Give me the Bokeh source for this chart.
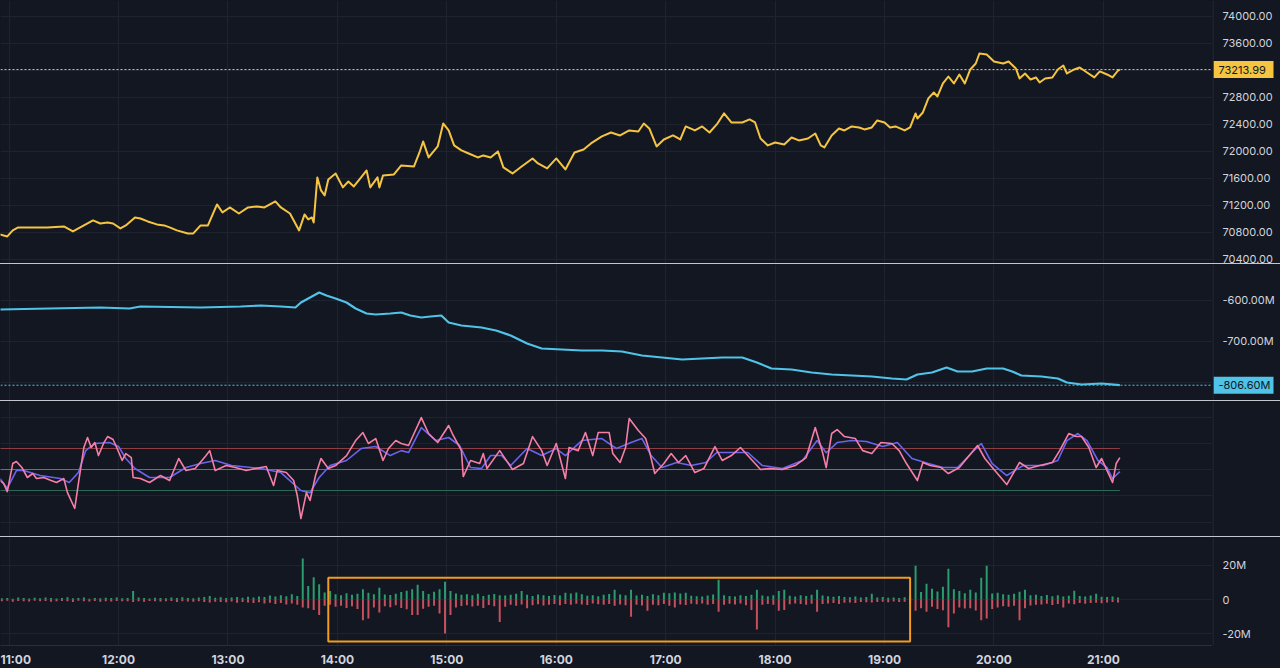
import pandas as pd
from bokeh.plotting import figure
from bokeh.layouts import column, row
from bokeh.models import (FixedTicker, Grid, Span, BoxAnnotation, Range1d, Div,
                          DatetimeTickFormatter)
from bokeh.core.properties import value
from bokeh.embed import file_html
from bokeh.resources import INLINE

DAY = "2024-03-14"

# ---------------- data ----------------
hour_labels = ["11:00", "12:00", "13:00", "14:00", "15:00", "16:00",
               "17:00", "18:00", "19:00", "20:00", "21:00"]
view_start, view_end = "10:55:17", "21:59:48"

price_time = ["10:55", "10:59", "11:02", "11:05", "11:13", "11:21", "11:30", "11:35", "11:39", "11:46",
              "11:50", "11:54", "11:57", "12:01", "12:04", "12:09", "12:12", "12:16", "12:21", "12:25",
              "12:28", "12:32", "12:38", "12:41", "12:45", "12:49", "12:54", "12:57", "13:01", "13:06",
              "13:11", "13:16", "13:20", "13:26", "13:29", "13:34", "13:39", "13:42", "13:44", "13:46",
              "13:47", "13:49", "13:51", "13:53", "13:55", "13:59", "14:03", "14:06", "14:09", "14:13",
              "14:16", "14:18", "14:22", "14:23", "14:25", "14:31", "14:35", "14:42", "14:45", "14:47",
              "14:50", "14:55", "14:58", "15:01", "15:04", "15:08", "15:12", "15:17", "15:20", "15:24",
              "15:28", "15:31", "15:36", "15:41", "15:47", "15:50", "15:55", "16:00", "16:05", "16:10",
              "16:15", "16:19", "16:25", "16:30", "16:35", "16:40", "16:45", "16:48", "16:51", "16:55",
              "16:59", "17:04", "17:08", "17:11", "17:16", "17:20", "17:24", "17:28", "17:32", "17:36",
              "17:42", "17:46", "17:49", "17:52", "17:56", "18:00", "18:05", "18:09", "18:13", "18:18",
              "18:22", "18:25", "18:27", "18:31", "18:35", "18:38", "18:42", "18:46", "18:49", "18:53",
              "18:56", "19:00", "19:03", "19:06", "19:11", "19:14", "19:17", "19:18", "19:21", "19:24",
              "19:27", "19:29", "19:32", "19:35", "19:38", "19:41", "19:44", "19:47", "19:50", "19:52",
              "19:56", "20:00", "20:05", "20:08", "20:12", "20:14", "20:17", "20:20", "20:23", "20:25",
              "20:28", "20:32", "20:35", "20:38", "20:40", "20:44", "20:47", "20:51", "20:55", "20:58",
              "21:02", "21:05", "21:08", "21:09"]
price_value = [70772, 70742, 70831, 70875, 70875, 70875, 70890, 70816, 70875, 70979,
               70934, 70949, 70934, 70860, 70905, 71023, 71008, 70964, 70920, 70905,
               70875, 70831, 70786, 70786, 70905, 70905, 71216, 71097, 71171, 71082,
               71171, 71186, 71171, 71260, 71171, 71082, 70831, 71068, 70994, 71023,
               70949, 71616, 71423, 71349, 71586, 71675, 71468, 71556, 71482, 71616,
               71719, 71468, 71616, 71468, 71645, 71660, 71793, 71778, 71986, 72149,
               71912, 72075, 72415, 72312, 72090, 72016, 71971, 71912, 71942, 71912,
               72001, 71764, 71675, 71778, 71897, 71823, 71749, 71897, 71734, 71986,
               72030, 72119, 72223, 72282, 72238, 72312, 72297, 72415, 72341, 72075,
               72178, 72238, 72178, 72371, 72312, 72371, 72282, 72401, 72564, 72430,
               72430, 72475, 72430, 72193, 72090, 72134, 72104, 72208, 72164, 72193,
               72267, 72090, 72060, 72238, 72341, 72312, 72371, 72356, 72327, 72356,
               72460, 72430, 72356, 72371, 72312, 72356, 72564, 72489, 72578, 72786,
               72874, 72815, 73008, 73111, 73008, 73141, 73008, 73215, 73304, 73452,
               73437, 73334, 73304, 73334, 73230, 73082, 73156, 73067, 73097, 73023,
               73082, 73097, 73215, 73274, 73156, 73215, 73245, 73171, 73097, 73186,
               73141, 73097, 73200, 73213.99]
last_price = 73213.99
price_ticks = [70400, 70800, 71200, 71600, 72000, 72400, 72800, 73600, 74000]
price_grid = [70400, 70800, 71200, 71600, 72000, 72400, 72800, 73200, 73600, 74000]

cvd_time = ["10:55", "11:22", "11:50", "12:06", "12:12", "12:45", "13:07", "13:18", "13:29", "13:37",
            "13:40", "13:45", "13:50", "13:54", "13:59", "14:05", "14:10", "14:16", "14:21", "14:29",
            "14:35", "14:40", "14:46", "14:51", "14:57", "15:01", "15:08", "15:19", "15:27", "15:35",
            "15:44", "15:52", "16:03", "16:14", "16:25", "16:36", "16:47", "16:58", "17:09", "17:20",
            "17:31", "17:42", "17:50", "17:58", "18:09", "18:20", "18:31", "18:42", "18:53", "19:04",
            "19:12", "19:18", "19:26", "19:34", "19:40", "19:48", "19:56", "20:05", "20:10", "20:15",
            "20:26", "20:35", "20:40", "20:48", "20:59", "21:09"]
cvd_value = [-622.0, -619.5, -617.1, -619.5, -614.6, -617.1, -614.6, -612.2, -614.6, -617.1,
             -604.9, -592.7, -580.5, -587.8, -595.1, -604.9, -619.5, -631.7, -634.1, -631.7,
             -629.3, -636.6, -641.5, -639.0, -636.6, -653.7, -661.0, -665.9, -673.2, -685.4,
             -704.9, -717.1, -719.5, -722.0, -722.0, -724.4, -734.1, -739.0, -743.9, -741.5,
             -739.0, -739.0, -751.2, -765.9, -768.3, -775.6, -780.5, -782.9, -785.4, -790.2,
             -792.7, -780.5, -775.6, -763.4, -773.2, -773.2, -765.9, -765.9, -773.2, -782.9,
             -785.4, -790.2, -800.0, -804.9, -802.4, -806.6]
last_cvd = -806.6
cvd_ticks = [-600, -700]
cvd_grid = [-600, -700, -800]

rsi_time = ["10:55", "10:57", "10:59", "11:02", "11:04", "11:07", "11:10", "11:13", "11:15", "11:19",
            "11:23", "11:26", "11:30", "11:32", "11:36", "11:38", "11:41", "11:43", "11:45", "11:47",
            "11:49", "11:52", "11:54", "11:57", "11:59", "12:02", "12:04", "12:07", "12:08", "12:12",
            "12:17", "12:23", "12:28", "12:33", "12:37", "12:42", "12:48", "12:50", "12:53", "12:59",
            "13:04", "13:10", "13:15", "13:21", "13:25", "13:27", "13:32", "13:36", "13:38", "13:40",
            "13:43", "13:45", "13:48", "13:51", "13:55", "13:59", "14:05", "14:10", "14:14", "14:17",
            "14:21", "14:25", "14:28", "14:32", "14:35", "14:39", "14:46", "14:50", "14:55", "15:01",
            "15:03", "15:08", "15:09", "15:13", "15:18", "15:20", "15:22", "15:29", "15:36", "15:42",
            "15:47", "15:52", "15:55", "16:00", "16:05", "16:07", "16:12", "16:16", "16:20", "16:23",
            "16:29", "16:31", "16:35", "16:38", "16:40", "16:45", "16:49", "16:51", "16:54", "16:59",
            "17:03", "17:07", "17:11", "17:16", "17:21", "17:27", "17:31", "17:36", "17:41", "17:45",
            "17:52", "17:57", "18:04", "18:11", "18:17", "18:22", "18:26", "18:28", "18:31", "18:34",
            "18:38", "18:44", "18:48", "18:53", "18:58", "19:04", "19:08", "19:12", "19:18", "19:21",
            "19:25", "19:31", "19:35", "19:41", "19:46", "19:51", "19:55", "20:00", "20:07", "20:14",
            "20:19", "20:25", "20:32", "20:36", "20:41", "20:45", "20:48", "20:52", "20:56", "20:59",
            "21:02", "21:05", "21:07", "21:09"]
rsi_value = [39.5, 36.7, 29.0, 55.7, 57.6, 52.0, 42.4, 46.2, 41.4, 42.4,
             39.5, 37.6, 41.4, 28.0, 12.9, 36.7, 71.0, 80.5, 71.0, 75.7,
             63.3, 75.7, 81.4, 78.6, 71.0, 58.6, 65.2, 61.4, 42.4, 41.4,
             37.6, 44.3, 39.5, 60.5, 49.0, 51.0, 63.3, 68.0, 49.0, 53.8,
             52.0, 49.0, 51.0, 52.9, 34.8, 49.0, 47.1, 39.5, 25.2, 3.3,
             28.0, 20.5, 44.3, 60.5, 51.0, 53.8, 63.3, 77.6, 85.2, 74.8,
             79.5, 58.6, 70.0, 77.6, 74.8, 72.9, 99.5, 84.3, 75.7, 91.9,
             84.3, 68.0, 43.3, 58.6, 55.7, 65.2, 51.0, 68.0, 50.0, 55.7,
             81.4, 68.0, 53.8, 74.8, 41.4, 71.0, 68.0, 85.2, 63.3, 85.2,
             85.2, 65.2, 56.7, 71.0, 98.6, 87.1, 79.5, 68.0, 46.2, 55.7,
             65.2, 56.7, 63.3, 47.1, 51.0, 71.9, 58.6, 63.3, 71.0, 63.3,
             50.0, 51.0, 50.0, 53.8, 61.4, 90.0, 66.2, 51.9, 84.3, 88.1,
             81.4, 79.5, 68.0, 65.2, 75.7, 74.8, 68.0, 55.7, 39.5, 56.7,
             53.8, 51.9, 46.2, 51.9, 62.4, 72.9, 60.5, 50.0, 35.7, 56.7,
             51.0, 53.8, 56.7, 68.0, 84.3, 81.4, 81.4, 71.0, 51.9, 60.5,
             49.0, 37.6, 55.7, 61.4]

rsi_ma_time = ["10:55", "10:59", "11:04", "11:08", "11:17", "11:28", "11:33", "11:38", "11:42", "11:47",
               "11:55", "12:00", "12:04", "12:09", "12:17", "12:28", "12:37", "12:45", "12:53", "13:02",
               "13:18", "13:29", "13:40", "13:45", "13:50", "13:56", "14:05", "14:13", "14:21", "14:29",
               "14:35", "14:39", "14:46", "14:54", "15:01", "15:07", "15:13", "15:19", "15:24", "15:30",
               "15:35", "15:44", "15:52", "16:00", "16:05", "16:14", "16:25", "16:33", "16:41", "16:47",
               "16:52", "16:58", "17:06", "17:14", "17:22", "17:28", "17:36", "17:45", "17:53", "18:04",
               "18:15", "18:23", "18:28", "18:34", "18:42", "18:50", "18:59", "19:07", "19:15", "19:24",
               "19:32", "19:40", "19:48", "19:53", "19:59", "20:07", "20:16", "20:27", "20:35", "20:40",
               "20:46", "20:51", "20:57", "21:02", "21:05", "21:09"]
rsi_ma_value = [41.4, 32.0, 49.0, 49.0, 44.3, 41.4, 37.6, 47.1, 68.0, 74.8,
                75.7, 71.9, 60.5, 51.0, 42.4, 42.4, 51.9, 55.7, 58.6, 53.8,
                51.0, 47.1, 30.0, 28.0, 42.4, 53.8, 58.6, 70.0, 71.9, 63.3,
                68.0, 66.2, 90.0, 77.6, 80.5, 72.9, 51.9, 51.0, 63.3, 63.3,
                53.8, 70.0, 63.3, 70.0, 63.3, 77.6, 79.5, 70.0, 75.7, 79.5,
                63.3, 51.9, 56.7, 53.8, 56.7, 66.2, 66.2, 66.2, 53.8, 51.0,
                58.6, 77.6, 66.0, 75.7, 77.6, 76.7, 71.9, 75.7, 60.5, 55.7,
                51.9, 51.9, 66.2, 74.8, 55.7, 44.3, 53.8, 53.8, 58.6, 77.6,
                84.3, 77.6, 58.6, 51.9, 41.4, 48.0]
rsi_levels = [70, 50, 30]
rsi_grid = [0, 25, 50, 75, 100]

# volume delta bars, 3-minute buckets starting 10:56 (millions)
delta_start = "10:56"
delta_step_minutes = 3
buy_volume = [0.8, 1.0, 0.6, 1.2, 0.9, 0.7, 1.1, 0.8, 1.3, 0.9,
              0.7, 1.0, 1.4, 0.8, 0.9, 1.2, 0.6, 1.0, 0.8, 1.1,
              0.9, 1.3, 0.8, 1.0, 5.0, 1.2, 0.9, 0.7, 1.1, 1.0,
              0.8, 1.2, 0.9, 1.4, 1.0, 0.8, 1.3, 1.6, 2.2, 1.1,
              1.4, 1.0, 1.2, 1.5, 1.1, 1.7, 1.3, 1.9, 1.5, 2.4,
              1.8, 2.6, 2.0, 3.1, 2.2, 24.0, 8.0, 13.0, 9.0, 4.2,
              5.0, 3.1, 2.6, 3.8, 2.9, 3.4, 6.0, 4.0, 3.2, 7.0,
              3.0, 2.7, 3.5, 4.4, 5.2, 6.1, 8.7, 5.0, 3.3, 4.6,
              6.0, 10.4, 5.0, 3.6, 2.8, 3.1, 2.5, 3.4, 2.2, 2.9,
              3.3, 2.6, 2.4, 2.9, 3.5, 5.0, 2.8, 2.2, 3.0, 2.5,
              2.1, 2.7, 2.4, 4.0, 3.6, 4.1, 3.2, 2.3, 2.6, 2.0,
              2.8, 3.3, 5.8, 3.0, 2.6, 5.8, 2.4, 2.9, 2.2, 3.1,
              2.5, 4.0, 3.8, 4.2, 3.6, 4.0, 2.3, 2.0, 1.8, 2.4,
              3.0, 11.6, 2.6, 2.1, 1.9, 2.5, 2.2, 2.8, 5.8, 2.4,
              2.0, 2.6, 5.0, 5.8, 2.3, 1.9, 2.5, 2.1, 2.8, 5.8,
              2.4, 2.0, 1.7, 2.2, 1.6, 1.4, 1.8, 1.3, 1.5, 3.5,
              1.2, 1.5, 1.1, 1.3, 1.0, 1.4, 2.0, 19.7, 4.5, 9.3,
              6.4, 4.8, 7.5, 18.0, 6.0, 5.0, 3.8, 5.8, 4.2, 12.8,
              19.7, 3.6, 4.0, 3.2, 2.8, 3.5, 4.6, 5.8, 2.6, 2.9,
              2.2, 2.7, 2.0, 2.5, 1.9, 2.3, 5.2, 2.1, 1.8, 2.4,
              3.5, 1.7, 1.5, 1.9, 1.3]
sell_volume = [0.9, 0.7, 1.2, 0.8, 1.0, 1.1, 0.6, 1.0, 0.8, 1.2,
               1.0, 0.8, 0.9, 1.3, 0.7, 1.0, 1.1, 0.8, 1.2, 0.9,
               1.1, 0.8, 1.0, 0.9, 1.4, 1.0, 1.2, 0.8, 0.9, 1.1,
               1.0, 0.8, 1.3, 0.9, 1.1, 1.2, 0.9, 1.4, 1.6, 1.2,
               1.3, 1.5, 1.1, 1.8, 1.4, 1.6, 2.0, 1.5, 2.2, 1.8,
               2.5, 1.9, 2.8, 2.2, 3.0, 4.6, 5.0, 6.0, 9.0, 3.5,
               3.0, 4.2, 3.6, 4.8, 3.9, 5.5, 12.0, 11.0, 4.5, 7.5,
               3.8, 4.4, 3.2, 4.9, 5.6, 9.0, 9.0, 5.3, 4.1, 3.6,
               8.0, 19.7, 9.0, 4.5, 3.7, 3.2, 4.0, 3.5, 4.8, 3.1,
               3.9, 13.0, 4.2, 3.0, 3.6, 2.8, 5.0, 3.3, 2.7, 3.4,
               2.9, 2.5, 3.2, 2.6, 3.0, 2.4, 2.8, 3.1, 2.3, 2.7,
               3.0, 2.5, 3.6, 2.8, 3.3, 9.9, 3.0, 3.4, 6.4, 2.9,
               3.2, 2.6, 3.5, 4.6, 2.8, 3.1, 2.4, 2.7, 2.2, 3.0,
               2.6, 7.0, 2.9, 2.4, 2.8, 2.3, 3.2, 6.0, 17.4, 3.0,
               2.5, 2.9, 6.4, 6.0, 2.7, 2.2, 2.6, 2.9, 2.4, 7.0,
               2.6, 2.3, 2.0, 2.5, 1.8, 1.6, 1.9, 1.4, 1.5, 1.6,
               1.3, 1.2, 1.5, 1.1, 1.4, 1.2, 2.4, 6.4, 5.0, 7.0,
               4.2, 5.4, 6.2, 16.0, 8.0, 4.6, 5.2, 5.0, 6.3, 12.0,
               11.0, 5.5, 4.6, 3.8, 4.2, 3.5, 12.0, 5.0, 3.4, 3.0,
               2.8, 2.4, 3.1, 2.6, 4.6, 2.2, 2.7, 2.0, 2.4, 1.9,
               1.8, 2.1, 1.6, 1.4, 1.7]
delta_ticks = [-20, 0, 20]
delta_tick_labels = ["-20M", "0", "20M"]

# highlighted region drawn on the volume-delta pane
highlight_start, highlight_end = "13:55", "19:14"
highlight_top, highlight_bottom = 12.8, -24.3

# ---------------- style ----------------
BG = "#131722"
GRID = "#1f2330"
AXIS = "#2a2e39"
TEXT = "#d1d4dc"
SEP = "#c3c6cd"
FONT = "Inter"
YELLOW = "#f5c542"
CYAN = "#4fc3e8"
PINK = "#f77fa6"
PURPLE = "#6a64ee"
GREEN = "#2a9d6f"
RED = "#c84f5c"
ORANGE = "#f29b1d"
MAIN_W, AXIS_W = 1212, 68


def ts(times):
    return pd.to_datetime([f"{DAY} {t}" for t in times])


def ms(t):
    return pd.Timestamp(f"{DAY} {t}").value / 1e6


hour_ms = [ms(t) for t in hour_labels]
x_range = Range1d(start=ms(view_start), end=ms(view_end))


def main_fig(frame_h, yr, y_grid, bottom=0):
    p = figure(frame_width=MAIN_W, frame_height=frame_h, x_range=x_range, y_range=yr,
               x_axis_type="datetime", x_axis_location="below" if bottom else None,
               y_axis_location=None, output_backend="svg", toolbar_location=None,
               min_border_left=0, min_border_right=0, min_border_top=0, min_border_bottom=bottom,
               background_fill_color=BG, border_fill_color=BG, outline_line_color=None, margin=0)
    p.grid.visible = False
    p.add_layout(Grid(dimension=0, ticker=FixedTicker(ticks=hour_ms), grid_line_color=GRID))
    p.add_layout(Grid(dimension=1, ticker=FixedTicker(ticks=y_grid), grid_line_color=GRID))
    return p


def axis_fig(frame_h, yr, ticks, labels, bottom=0):
    a = figure(frame_width=AXIS_W, frame_height=frame_h, x_range=Range1d(0, AXIS_W), y_range=yr,
               x_axis_location=None, y_axis_location=None, output_backend="svg",
               toolbar_location=None, min_border_left=0, min_border_right=0, min_border_top=0,
               min_border_bottom=bottom, background_fill_color=BG, border_fill_color=BG,
               outline_line_color=None, margin=0)
    a.grid.visible = False
    a.add_layout(Span(location=0.5, dimension="height", line_color=AXIS, line_width=1))
    if ticks:
        a.text(x=[10] * len(ticks), y=ticks, text=labels, text_color=TEXT,
               text_font=value(FONT), text_font_size="11px", text_baseline="middle",
               text_align="left")
    return a


def value_tag(p, a, y, text, color):
    p.add_layout(Span(location=y, dimension="width", line_color=color, line_dash="2 2", line_width=1))
    a.rect(x=[31], y=[y], width=60, height=17, height_units="screen",
           fill_color=color, line_color=None)
    a.text(x=[6], y=[y], text=[text], text_color=BG, text_font=value(FONT),
           text_font_size="11px", text_baseline="middle", text_align="left")


# price pane
r1 = Range1d(70340.7, 74237.0)
p1 = main_fig(263, r1, price_grid)
a1 = axis_fig(263, r1, price_ticks, [f"{v:.2f}" for v in price_ticks])
p1.line(ts(price_time), price_value, line_color=YELLOW, line_width=2, line_join="round")
value_tag(p1, a1, last_price, f"{last_price:.2f}", YELLOW)

# cumulative volume delta pane
r2 = Range1d(-843.9, -512.2)
p2 = main_fig(136, r2, cvd_grid)
a2 = axis_fig(136, r2, cvd_ticks, [f"{v:.2f}M" for v in cvd_ticks])
p2.line(ts(cvd_time), cvd_value, line_color=CYAN, line_width=2.2, line_join="round")
value_tag(p2, a2, last_cvd, f"{last_cvd:.2f}M", CYAN)

# RSI pane
r3 = Range1d(-13.8, 114.8)
p3 = main_fig(135, r3, rsi_grid)
a3 = axis_fig(135, r3, [], [])
level_colors = ["#8f3f44", "#6f727c", "#2b6b57"]
t_first, t_last = ts([rsi_time[0], rsi_time[-1]])
for lvl, col in zip(rsi_levels, level_colors):
    p3.line([t_first, t_last], [lvl, lvl], line_color=col, line_width=1)
p3.line(ts(rsi_ma_time), rsi_ma_value, line_color=PURPLE, line_width=1.6, line_join="round")
p3.line(ts(rsi_time), rsi_value, line_color=PINK, line_width=1.6, line_join="round")

# volume delta pane
r4 = Range1d(-26.7, 36.2)
p4 = main_fig(108, r4, delta_ticks, bottom=23)
a4 = axis_fig(108, r4, delta_ticks, delta_tick_labels, bottom=23)
delta_t = pd.date_range(f"{DAY} {delta_start}", periods=len(buy_volume), freq=f"{delta_step_minutes}min")
sell_t = pd.date_range(f"{DAY} {delta_start}", periods=len(sell_volume), freq=f"{delta_step_minutes}min")
bar_w = 65000
p4.vbar(x=delta_t, top=buy_volume, bottom=0, width=bar_w, fill_color=GREEN, line_color=None)
p4.vbar(x=sell_t, top=0, bottom=[-v for v in sell_volume], width=bar_w, fill_color=RED, line_color=None)
p4.add_layout(BoxAnnotation(left=ms(highlight_start), right=ms(highlight_end),
                            top=highlight_top, bottom=highlight_bottom,
                            fill_color=None, fill_alpha=0, line_color=ORANGE, line_alpha=1,
                            line_width=2))
xa = p4.xaxis[0]
xa.ticker = FixedTicker(ticks=hour_ms)
xa.formatter = DatetimeTickFormatter(hours="%H:%M", hourmin="%H:%M", minutes="%H:%M", days="%H:%M")
xa.axis_line_color = AXIS
xa.major_tick_line_color = None
xa.minor_tick_line_color = None
xa.major_tick_out = 0
xa.major_tick_in = 0
xa.minor_tick_out = 0
xa.major_label_text_color = TEXT
xa.major_label_text_font = FONT
xa.major_label_text_font_size = "12px"
xa.major_label_text_font_style = "bold"
xa.major_label_standoff = 6


def sep():
    return Div(width=MAIN_W + AXIS_W, height=1, margin=0,
               styles={"background-color": SEP})


layout = column(row(p1, a1, spacing=0, margin=0), sep(),
                row(p2, a2, spacing=0, margin=0), sep(),
                row(p3, a3, spacing=0, margin=0), sep(),
                row(p4, a4, spacing=0, margin=0), spacing=0, margin=0,
                styles={"background-color": BG})

open("out.html", "w").write(file_html(layout, INLINE))
